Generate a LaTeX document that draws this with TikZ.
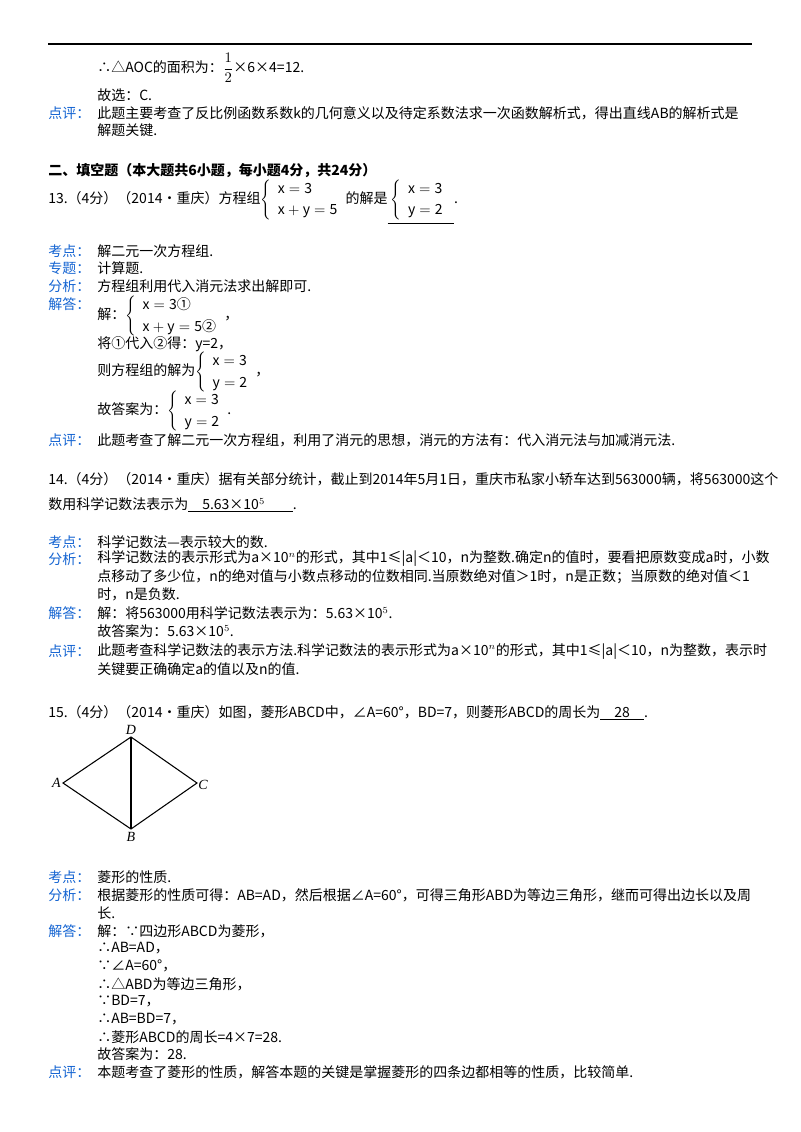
\documentclass[tikz,border=0pt]{standalone}
\usepackage{fontspec}
\setmainfont{Noto Sans CJK SC}
\newfontfamily\lat{Liberation Serif}
\definecolor{lab}{RGB}{20,100,210}
\renewcommand{\arraystretch}{1.35}
\begin{document}
\begin{tikzpicture}[x=0.75pt,y=-0.75pt,
 t/.style={anchor=west,inner sep=0pt,font=\fontsize{10.5}{12}\selectfont},
 l/.style={t,text=lab},
 pt/.style={circle,inner sep=0pt,minimum size=0pt}]
\useasboundingbox[fill=white] (0,0) rectangle (800,1132);
\draw[line width=0.8pt] (48,44) -- (752,44);
\node[t] (a1) at (97,68) {∴△AOC的面积为：$\displaystyle\frac{1}{2}$×6×4=12.};
\node[t] (a2) at (97,95) {故选：C.};
\node[l] (a3) at (48,113) {点评：};
\node[t] (a4) at (97,113) {此题主要考查了反比例函数系数k的几何意义以及待定系数法求一次函数解析式，得出直线AB的解析式是};
\node[t] (a5) at (97,130) {解题关键.};
\node[t,font=\fontsize{10.5}{12}\selectfont\bfseries] (h) at (48,171) {二、填空题（本大题共6小题，每小题4分，共24分）};
\node[t] (q13) at (48,201) {13.（4分）（2014•重庆）方程组$\left\{\begin{array}{l}\mathrm{x=3}\\ \mathrm{x+y=5}\end{array}\right.$的解是\underline{\ $\left\{\begin{array}{l}\mathrm{x=3}\\ \mathrm{y=2}\end{array}\right.$\ }.};
\node[l] (k1) at (48,251) {考点：};
\node[t] (k1t) at (97,251) {解二元一次方程组.};
\node[l] (z1) at (48,268) {专题：};
\node[t] (z1t) at (97,268) {计算题.};
\node[l] (f1) at (48,286) {分析：};
\node[t] (f1t) at (97,286) {方程组利用代入消元法求出解即可.};
\node[l] (j1) at (48,304) {解答：};
\node[t] (j1a) at (97,316) {解：$\left\{\begin{array}{l}\mathrm{x=3}\mbox{①}\\ \mathrm{x+y=5}\mbox{②}\end{array}\right.$，};
\node[t] (j1b) at (97,344) {将①代入②得：y=2，};
\node[t] (j1c) at (97,372) {则方程组的解为$\left\{\begin{array}{l}\mathrm{x=3}\\ \mathrm{y=2}\end{array}\right.$，};
\node[t] (j1d) at (97,411) {故答案为：$\left\{\begin{array}{l}\mathrm{x=3}\\ \mathrm{y=2}\end{array}\right.$.};
\node[l] (d1) at (48,440) {点评：};
\node[t] (d1t) at (97,440) {此题考查了解二元一次方程组，利用了消元的思想，消元的方法有：代入消元法与加减消元法.};
\node[t] (q14) at (48,479) {14.（4分）（2014•重庆）据有关部分统计，截止到2014年5月1日，重庆市私家小轿车达到563000辆，将563000这个};
\node[t] (q14b) at (48,505) {数用科学记数法表示为\underline{\quad 5.63×10$^5$\qquad}.};
\node[l] (k2) at (48,542) {考点：};
\node[t] (k2t) at (97,542) {科学记数法—表示较大的数.};
\node[l] (f2) at (48,559) {分析：};
\node[t] (f2t) at (97,559) {科学记数法的表示形式为a×10$^n$的形式，其中1≤|a|＜10，n为整数.确定n的值时，要看把原数变成a时，小数};
\node[t] (f2u) at (97,577) {点移动了多少位，n的绝对值与小数点移动的位数相同.当原数绝对值＞1时，n是正数；当原数的绝对值＜1};
\node[t] (f2v) at (97,594) {时，n是负数.};
\node[l] (j2) at (48,613) {解答：};
\node[t] (j2t) at (97,613) {解：将563000用科学记数法表示为：5.63×10$^5$.};
\node[t] (j2u) at (97,631) {故答案为：5.63×10$^5$.};
\node[l] (d2) at (48,651) {点评：};
\node[t] (d2t) at (97,651) {此题考查科学记数法的表示方法.科学记数法的表示形式为a×10$^n$的形式，其中1≤|a|＜10，n为整数，表示时};
\node[t] (d2u) at (97,669) {关键要正确确定a的值以及n的值.};
\node[t] (q15) at (48,713) {15.（4分）（2014•重庆）如图，菱形ABCD中，∠A=60°，BD=7，则菱形ABCD的周长为\underline{\quad 28\quad}.};
\node[pt] (A) at (63,783) {};
\node[pt] (D) at (131,737) {};
\node[pt] (C) at (197,783) {};
\node[pt] (B) at (131,829) {};
\draw[line width=0.8pt] (A.center) -- (D.center) -- (C.center) -- (B.center) -- cycle;
\draw[line width=0.8pt] (D.center) -- (B.center);
\node[t,anchor=east,font=\lat\itshape\fontsize{10.5}{12}\selectfont] (la) at (61,783) {A};
\node[t,anchor=south,font=\lat\itshape\fontsize{10.5}{12}\selectfont] (ld) at (131,735) {D};
\node[t,anchor=west,font=\lat\itshape\fontsize{10.5}{12}\selectfont] (lc) at (198,785) {C};
\node[t,anchor=north,font=\lat\itshape\fontsize{10.5}{12}\selectfont] (lb) at (131,832) {B};
\node[l] (k3) at (48,877) {考点：};
\node[t] (k3t) at (97,877) {菱形的性质.};
\node[l] (f3) at (48,895) {分析：};
\node[t] (f3t) at (97,895) {根据菱形的性质可得：AB=AD，然后根据∠A=60°，可得三角形ABD为等边三角形，继而可得出边长以及周};
\node[t] (f3u) at (97,913) {长.};
\node[l] (j3) at (48,931) {解答：};
\node[t] (j3a) at (97,931) {解：∵四边形ABCD为菱形，};
\node[t] (j3b) at (97,948) {∴AB=AD，};
\node[t] (j3c) at (97,966) {∵∠A=60°，};
\node[t] (j3d) at (97,984) {∴△ABD为等边三角形，};
\node[t] (j3e) at (97,1001) {∵BD=7，};
\node[t] (j3f) at (97,1019) {∴AB=BD=7，};
\node[t] (j3g) at (97,1037) {∴菱形ABCD的周长=4×7=28.};
\node[t] (j3h) at (97,1054) {故答案为：28.};
\node[l] (d3) at (48,1072) {点评：};
\node[t] (d3t) at (97,1072) {本题考查了菱形的性质，解答本题的关键是掌握菱形的四条边都相等的性质，比较简单.};
\end{tikzpicture}
\end{document}
